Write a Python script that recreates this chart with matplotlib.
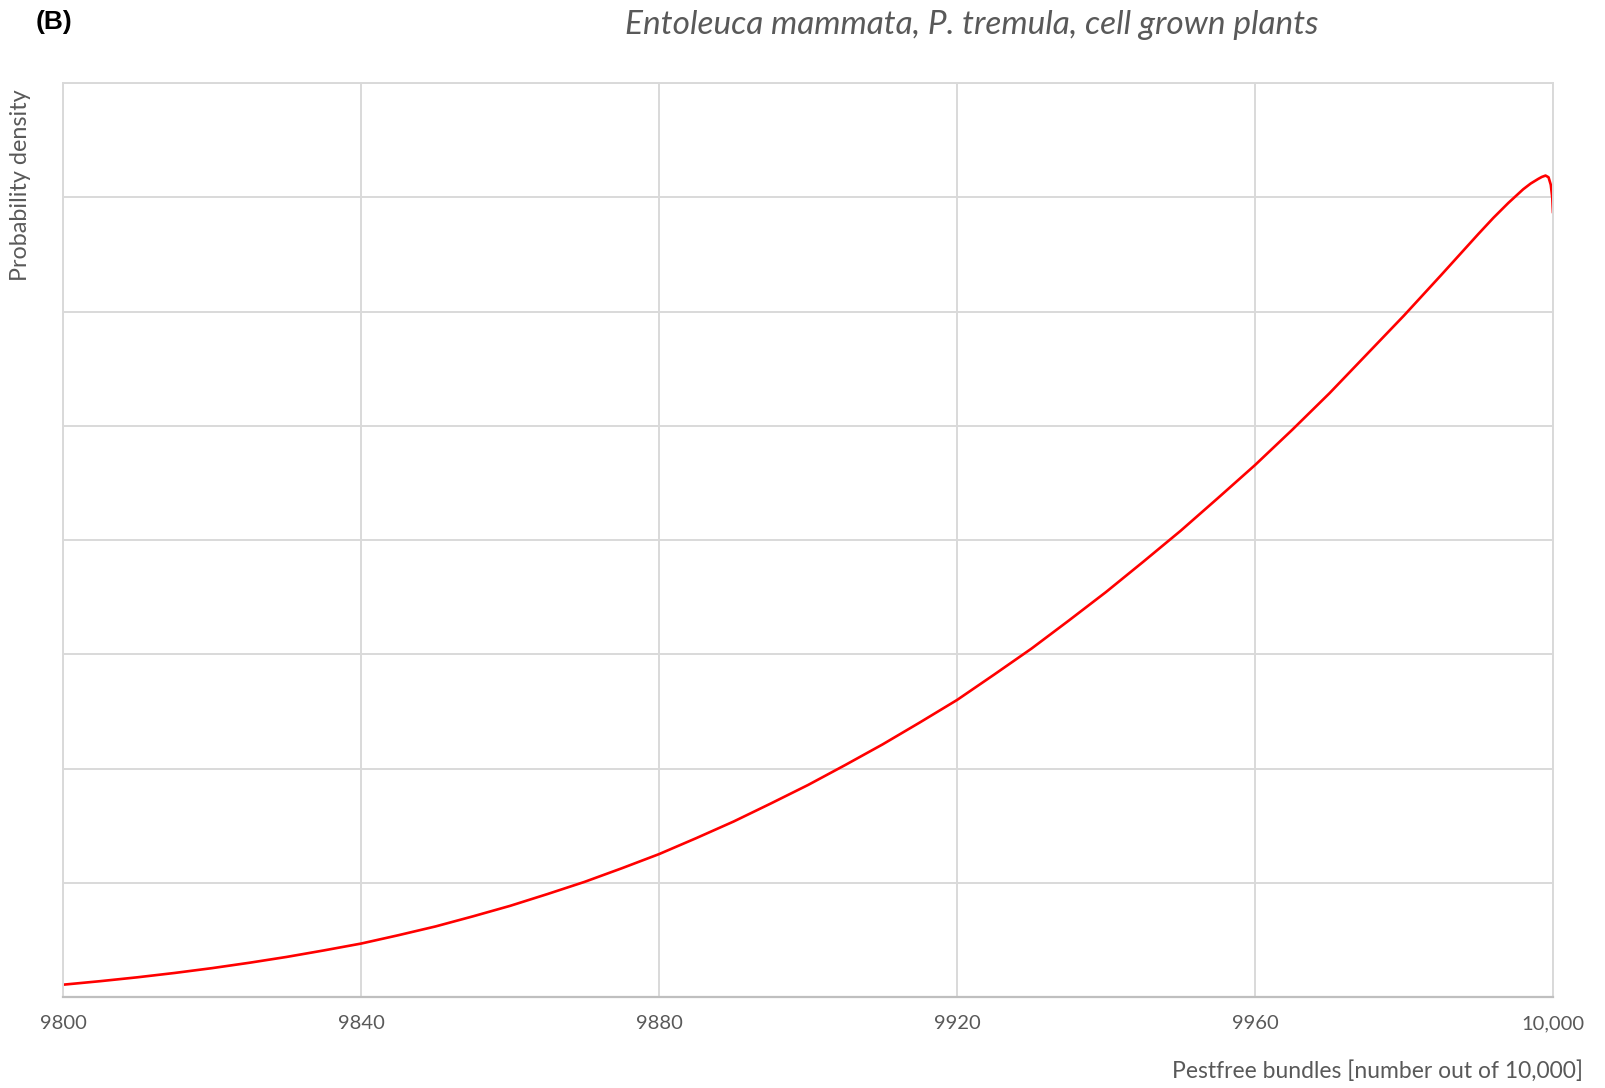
# Probability density of pest-free bundles (panel B)

import numpy as np
import matplotlib.pyplot as plt

# Data (y in gridline units, no scale shown)
bundles = [9800, 9805, 9810, 9815, 9820, 9825, 9830, 9835, 9840, 9845,
           9850, 9855, 9860, 9865, 9870, 9875, 9880, 9885, 9890, 9895,
           9900, 9905, 9910, 9915, 9920, 9925, 9930, 9935, 9940, 9945,
           9950, 9955, 9960, 9965, 9970, 9975, 9980, 9985, 9990, 9992,
           9994, 9995, 9996, 9997, 9998, 9998.5, 9999, 9999.4, 9999.7,
           9999.9, 10000]
density = [0.108, 0.139, 0.173, 0.211, 0.253, 0.300, 0.351, 0.408, 0.468, 0.541,
           0.618, 0.706, 0.798, 0.901, 1.008, 1.127, 1.251, 1.391, 1.536, 1.694,
           1.856, 2.031, 2.211, 2.403, 2.600, 2.823, 3.050, 3.295, 3.545, 3.810,
           4.080, 4.366, 4.656, 4.965, 5.285, 5.625, 5.965, 6.320, 6.680, 6.820,
           6.950, 7.010, 7.070, 7.120, 7.160, 7.178, 7.190, 7.175, 7.110,
           7.000, 6.860]
xticks = [9800, 9840, 9880, 9920, 9960, 10000]
xtick_labels = ['9800', '9840', '9880', '9920', '9960', '10,000']

title = 'Entoleuca mammata, P. tremula, cell grown plants'
font = ['Lato', 'DejaVu Sans']
grey = '#595959'

fig = plt.figure(figsize=(16.05, 10.88), dpi=100)
ax = fig.add_axes([0.0393, 0.0836, 0.9283, 0.8401])

ax.plot(bundles, density, color='#ff0000', linewidth=1.9,
        solid_joinstyle='round', solid_capstyle='butt')

ax.set_xlim(9800, 10000)
ax.set_ylim(0, 8)
ax.set_xticks(xticks)
ax.set_xticklabels(xtick_labels, fontsize=14.5, color=grey, family=font)
ax.set_yticks(np.arange(0, 9, 1))
ax.set_yticklabels([])
ax.tick_params(length=0, pad=13)
ax.grid(True, color='#d9d9d9', linewidth=1.4)
ax.set_axisbelow(True)
for side in ['top', 'right', 'left']:
    ax.spines[side].set_color('#d9d9d9')
    ax.spines[side].set_linewidth(1.4)
ax.spines['bottom'].set_color('#bfbfbf')
ax.spines['bottom'].set_linewidth(1.6)

# Texts
fig.text(0.6056, 0.977, title, fontsize=24, style='italic', color=grey,
         family=font, ha='center', va='center')
fig.text(0.0224, 0.980, '(B)', fontsize=19, weight='bold', color='black',
         family=['Liberation Sans', 'DejaVu Sans'], ha='left', va='center')
fig.text(0.9863, 0.016, 'Pestfree bundles [number out of 10,000]', fontsize=16.5,
         color=grey, family=font, ha='right', va='center')
fig.text(0.0125, 0.918, 'Probability density', fontsize=16.8, color=grey,
         family=font, rotation=90, ha='center', va='top')

plt.savefig('out.png', dpi=100)
